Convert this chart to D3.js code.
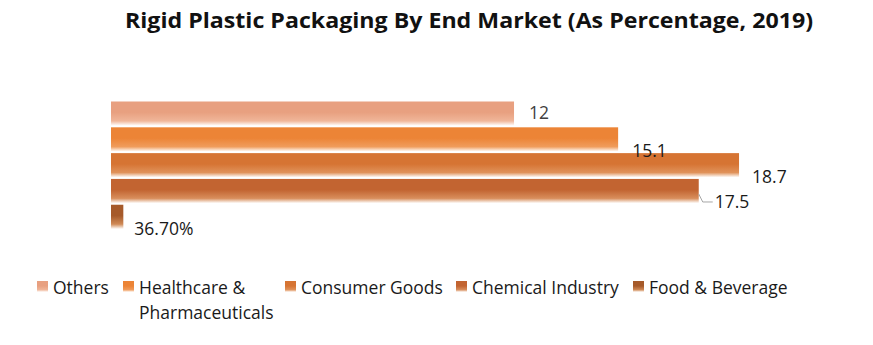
<!DOCTYPE html>
<html><head><meta charset="utf-8">
<script src="https://cdn.jsdelivr.net/npm/d3@7"></script>
<style>body{margin:0;background:#fff}svg{display:block}</style>
</head><body><svg id="c" width="873" height="345"></svg>
<script>
const seriesNames = ["Others", "Healthcare & Pharmaceuticals", "Consumer Goods", "Chemical Industry", "Food & Beverage"];
const legendLines = [["Others"], ["Healthcare &", "Pharmaceuticals"], ["Consumer Goods"], ["Chemical Industry"], ["Food & Beverage"]];
const values = [12, 15.1, 18.7, 17.5, 0.367];
const valueLabels = ["12", "15.1", "18.7", "17.5", "36.70%"];
const topColors = ["#E8A080", "#EC8436", "#D67433", "#C26431", "#A65A2A"];
const midColors = ["#F0B699", "#F09C5C", "#E0925A", "#D88E5C", "#D08A56"];
const titleText = "Rigid Plastic Packaging By End Market (As Percentage, 2019)";

const svg = d3.select("#c");
const font = "'Open Sans', 'Noto Sans', sans-serif";

svg.append("text").attr("x", 469).attr("y", 28).attr("text-anchor", "middle")
  .attr("font-family", font).attr("font-weight", "bold").attr("font-size", 21)
  .attr("textLength", 688).attr("lengthAdjust", "spacingAndGlyphs")
  .attr("fill", "#111").text(titleText);

const defs = svg.append("defs");
seriesNames.forEach((s, i) => {
  const g = defs.append("linearGradient").attr("id", "g" + i)
    .attr("x1", 0).attr("y1", 0).attr("x2", 0).attr("y2", 1);
  g.append("stop").attr("offset", "0%").attr("stop-color", topColors[i]);
  g.append("stop").attr("offset", "45%").attr("stop-color", topColors[i]);
  g.append("stop").attr("offset", "80%").attr("stop-color", midColors[i]);
  g.append("stop").attr("offset", "100%").attr("stop-color", "#fff");
});

const x = d3.scaleLinear().domain([0, 20]).range([111, 782.7]);
const y = d3.scaleBand().domain(seriesNames).range([101.5, 229]).paddingInner(0.06).paddingOuter(0);

svg.append("g").selectAll("rect").data(seriesNames).join("rect")
  .attr("x", x(0)).attr("y", d => y(d))
  .attr("width", (d, i) => x(values[i]) - x(0))
  .attr("height", y.bandwidth())
  .attr("fill", (d, i) => `url(#g${i})`);

const lblDx = [15, 14, 13, 16, 11];
const lblDy = [0.82, 1.3, 1.3, 1.3, 1.35];
svg.append("g").selectAll("text").data(seriesNames).join("text")
  .attr("x", (d, i) => x(values[i]) + lblDx[i])
  .attr("y", (d, i) => y(d) + y.bandwidth() * lblDy[i] - 2)
  .attr("font-family", font).attr("font-size", 17.5)
  .attr("fill", (d, i) => i === 0 ? "#404040" : "#1a1a1a")
  .text((d, i) => valueLabels[i]);

// leader line for Chemical Industry label
const ci = 3;
const bx = x(values[ci]), by = y(seriesNames[ci]) + y.bandwidth() * 0.62;
svg.append("path")
  .attr("d", `M${bx},${by} L${bx + 4},${by + 8} L${bx + 14},${by + 8}`)
  .attr("fill", "none").attr("stroke", "#a6a6a6").attr("stroke-width", 1);

// legend
const legX = [37, 123, 285, 456, 633];
const lg = svg.append("g");
seriesNames.forEach((s, i) => {
  lg.append("rect").attr("x", legX[i]).attr("y", 281).attr("width", 11).attr("height", 11)
    .attr("fill", `url(#g${i})`);
  const t = lg.append("text").attr("x", legX[i] + 16).attr("y", 294)
    .attr("font-family", font).attr("font-size", 17.5).attr("fill", "#1a1a1a");
  legendLines[i].forEach((ln, k) => {
    t.append("tspan").attr("x", legX[i] + 16).attr("dy", k === 0 ? 0 : 25).text(ln);
  });
});
</script></body></html>
